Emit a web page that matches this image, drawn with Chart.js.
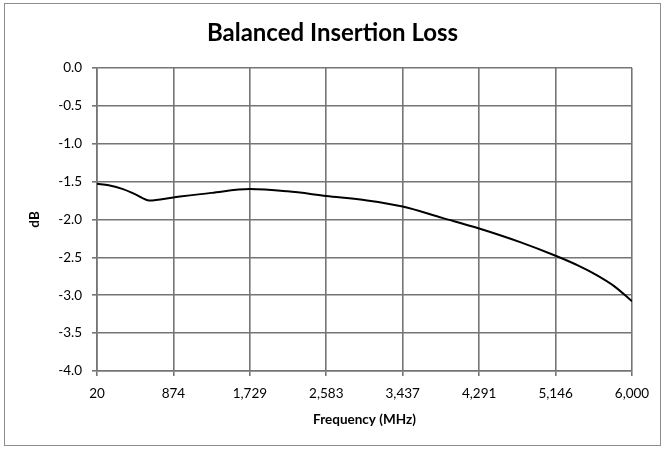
<!DOCTYPE html>
<html>
<head>
<meta charset="utf-8">
<script src="https://cdn.jsdelivr.net/npm/chart.js@4/dist/chart.umd.min.js"></script>
<style>
    html, body { margin: 0; padding: 0; background: #fff; }
    #wrap { width: 665px; height: 450px; }
</style>
</head>
<body>
<div id="wrap"><canvas id="lossChart" width="665" height="450"></canvas></div>
<script>
const freqMHz = [20, 150, 311, 450, 605, 874, 1300, 1729, 2150, 2583, 3040, 3437, 3880, 4291, 4750, 5146, 5400, 5605, 5800, 6000];
const lossDb = [-1.53, -1.55, -1.60, -1.67, -1.75, -1.71, -1.65, -1.60, -1.63, -1.69, -1.75, -1.83, -1.98, -2.12, -2.30, -2.48, -2.61, -2.735, -2.88, -3.08];

// Axis tick labels as printed on the chart
const xTicks = [20, 874, 1729, 2583, 3437, 4291, 5146, 6000];
const yTicks = [0, -0.5, -1, -1.5, -2, -2.5, -3, -3.5, -4];

const fontFamily = 'Lato, "Open Sans", sans-serif';

// Draws the thin gray frame round the whole chart
const framePlugin = {
    id: 'frame',
    beforeDraw(chart) {
        const ctx = chart.ctx;
        ctx.save();
        ctx.fillStyle = '#fff';
        ctx.fillRect(0, 0, chart.width, chart.height);
        ctx.strokeStyle = '#8c8c8c';
        ctx.lineWidth = 1;
        ctx.strokeRect(4.5, 3.5, chart.width - 9, chart.height - 8);
        ctx.restore();
    }
};

const ctx = document.getElementById('lossChart').getContext('2d');
new Chart(ctx, {
    type: 'line',
    data: {
        datasets: [{
            label: 'Balanced Insertion Loss',
            data: freqMHz.map((f, i) => ({ x: f, y: lossDb[i] })),
            borderColor: '#000',
            borderWidth: 2,
            pointRadius: 0,
            fill: false,
            cubicInterpolationMode: 'monotone'
        }]
    },
    options: {
        responsive: false,
        animation: false,
        layout: { padding: 0 },
        plugins: {
            legend: { display: false },
            tooltip: { enabled: false },
            title: {
                display: true,
                text: 'Balanced Insertion Loss',
                color: '#000',
                font: { family: fontFamily, size: 24, weight: 'bold' },
                padding: { top: 19, bottom: 20 }
            }
        },
        scales: {
            x: {
                type: 'linear',
                min: 20,
                max: 6000,
                afterBuildTicks: scale => {
                    scale.ticks = xTicks.map(v => ({ value: v }));
                },
                afterFit: scale => { scale.height = 79; },
                ticks: {
                    color: '#000',
                    font: { family: fontFamily, size: 13.5 },
                    padding: 10,
                    maxRotation: 0,
                    callback: v => v.toLocaleString('en-US')
                },
                grid: { color: '#757575', lineWidth: 1.6, tickLength: 5 },
                border: { color: '#757575', width: 1.6 },
                title: {
                    display: true,
                    text: 'Frequency (MHz)',
                    color: '#000',
                    font: { family: fontFamily, size: 13.5, weight: 'bold' },
                    padding: { top: 0, bottom: 22 }
                }
            },
            y: {
                min: -4,
                max: 0,
                afterBuildTicks: scale => {
                    scale.ticks = yTicks.map(v => ({ value: v }));
                },
                afterFit: scale => { scale.width = 97; },
                ticks: {
                    color: '#000',
                    font: { family: fontFamily, size: 13.5 },
                    padding: 10,
                    callback: v => v.toFixed(1)
                },
                grid: { color: '#757575', lineWidth: 1.6, tickLength: 5 },
                border: { color: '#757575', width: 1.6 },
                title: {
                    display: true,
                    text: 'dB',
                    color: '#000',
                    font: { family: fontFamily, size: 13.5, weight: 'bold' },
                    padding: { top: 27, bottom: 0 }
                }
            },
            // empty right-hand margin so the plot ends where the reference's does
            yRight: {
                position: 'right',
                min: -4,
                max: 0,
                afterFit: scale => { scale.width = 33; },
                ticks: { display: false },
                grid: { display: false, drawTicks: false },
                border: { display: false }
            }
        }
    },
    plugins: [framePlugin]
});
</script>
</body>
</html>
